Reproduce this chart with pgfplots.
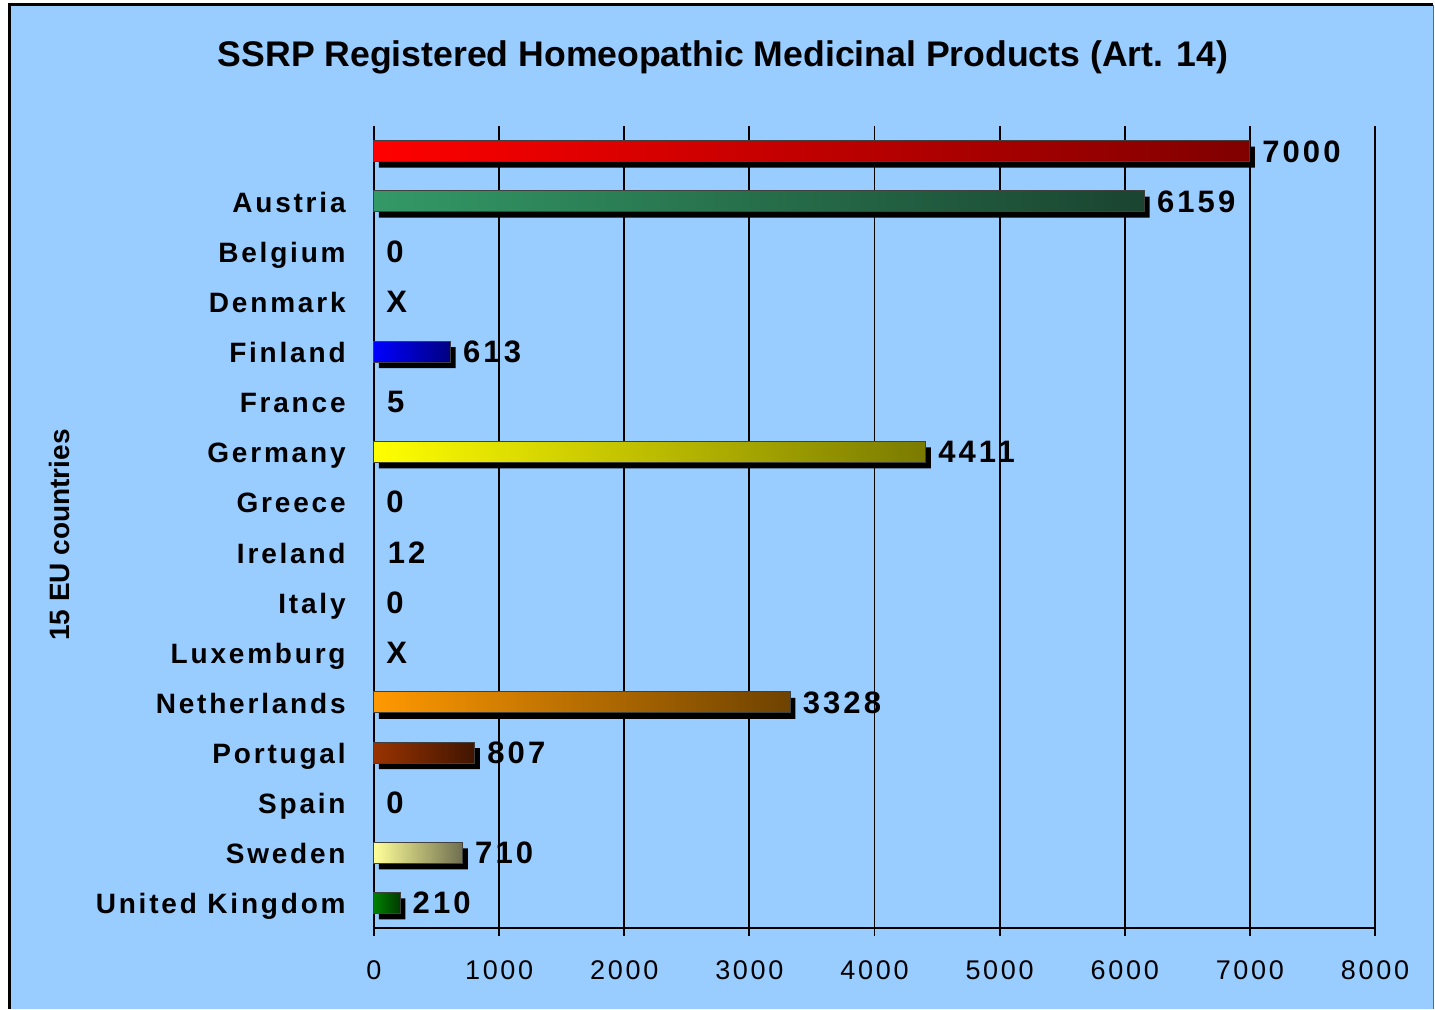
\documentclass[border=0pt]{standalone}
\usepackage{fontspec}
\setmainfont{Liberation Sans}
\newfontfamily\spaced[LetterSpace=10]{Liberation Sans}
\usepackage{pgfplots}
\pgfplotsset{compat=1.18}

\definecolor{bg}{HTML}{99CCFF}
\definecolor{redL}{HTML}{FF0000}\definecolor{redR}{HTML}{800000}
\definecolor{ausL}{HTML}{339966}\definecolor{ausR}{HTML}{1A4430}
\definecolor{finL}{HTML}{0000FF}\definecolor{finR}{HTML}{000080}
\definecolor{gerL}{HTML}{FFFF00}\definecolor{gerR}{HTML}{7A7A00}
\definecolor{nedL}{HTML}{FF9900}\definecolor{nedR}{HTML}{6E4200}
\definecolor{porL}{HTML}{993300}\definecolor{porR}{HTML}{401500}
\definecolor{sweL}{HTML}{FFFF99}\definecolor{sweR}{HTML}{6E6E50}
\definecolor{ukL}{HTML}{008000}\definecolor{ukR}{HTML}{003A00}

\pgfplotsset{
  mybar/.style={xbar, bar width=0.42, bar shift=0pt, draw=black!75, line width=0.5pt},
  myshadow/.style={xbar, bar width=0.42, bar shift=0pt, fill=black, draw=none, xshift=2.5pt, yshift=-3pt}}

\pgfplotstableread{
x y lab
7000 15 7000
6159 14 6159
0 13 0
0 12 X
613 11 613
5 10 5
4411 9 4411
0 8 0
12 7 12
0 6 0
0 5 X
3328 4 3328
807 3 807
0 2 0
710 1 710
210 0 210
}\labtable

\pgfplotstableread{
x y
7000 15
6159 14
613 11
4411 9
3328 4
807 3
710 1
210 0
}\bartable

\begin{document}
\begin{tikzpicture}
\path[use as bounding box, fill=white] (0,0) rectangle (717.5pt,504.5pt);
\fill[bg] (4.5pt,0) rectangle (716.5pt,502pt);
\draw[black, line width=1.5pt] (4.5pt,0) -- (4.5pt,502pt) -- (716.5pt,502pt);
\draw[black!60, line width=0.5pt] (716.5pt,502pt) -- (716.5pt,0);
\node[font=\fontsize{17.8}{20}\selectfont\bfseries] at (361.5pt,476pt) {SSRP Registered Homeopathic Medicinal Products (Art. 14)};
\begin{axis}[
  at={(187pt,40.5pt)}, anchor=south west,
  scale only axis, width=500.5pt, height=401pt,
  xmin=0, xmax=8000, ymin=-0.5, ymax=15.5,
  axis lines*=left, axis line style={black, line width=0.9pt},
  xtick={0,1000,...,8000},
  ytick={0,...,15},
  yticklabels={United Kingdom, Sweden, Spain, Portugal, Netherlands, Luxemburg, Italy, Ireland, Greece, Germany, France, Finland, Denmark, Belgium, Austria, {}},
  xmajorgrids, major grid style={black, line width=0.9pt},
  tick align=outside, major tick length=4pt,
  xtick style={black, line width=0.9pt},
  ytick style={draw=none},
  /pgf/number format/assume math mode=true,
  /pgf/number format/1000 sep={},
  xticklabel style={font=\fontsize{13.5}{15}\selectfont\spaced, inner sep=0pt, yshift=-12pt},
  yticklabel style={font=\fontsize{14}{16}\selectfont\spaced\bfseries, inner sep=0pt, text height=11pt, text depth=0pt, xshift=-10pt},
  ylabel={15 EU countries},
  ylabel style={font=\fontsize{14}{16}\selectfont\bfseries, at={(axis description cs:-0.3137,0.49)}, anchor=center},
  clip=false,
]
\addplot[myshadow] table[x=x, y=y] {\bartable};
\addplot[mybar, left color=redL, right color=redR] coordinates {(7000,15)};
\addplot[mybar, left color=ausL, right color=ausR] coordinates {(6159,14)};
\addplot[mybar, left color=finL, right color=finR] coordinates {(613,11)};
\addplot[mybar, left color=gerL, right color=gerR] coordinates {(4411,9)};
\addplot[mybar, left color=nedL, right color=nedR] coordinates {(3328,4)};
\addplot[mybar, left color=porL, right color=porR] coordinates {(807,3)};
\addplot[mybar, left color=sweL, right color=sweR] coordinates {(710,1)};
\addplot[mybar, left color=ukL, right color=ukR] coordinates {(210,0)};
\addplot[draw=none, mark=none, nodes near coords, point meta=explicit symbolic,
  nodes near coords style={anchor=west, inner sep=0pt, xshift=6pt, text height=11pt, text depth=0pt,
  font=\fontsize{15.5}{17}\selectfont\spaced\bfseries, text=black}]
  table[x=x, y=y, meta=lab] {\labtable};
\end{axis}
\end{tikzpicture}
\end{document}
